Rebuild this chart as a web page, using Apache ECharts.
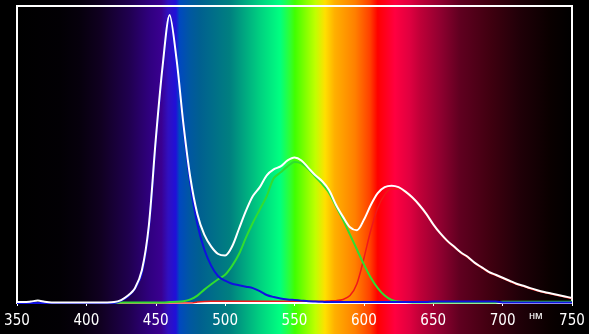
<!DOCTYPE html>
<html><head><meta charset="utf-8">
<script src="https://cdn.jsdelivr.net/npm/echarts@6/dist/echarts.min.js"></script>
<style>html,body{margin:0;padding:0;background:#000}#c{width:589px;height:334px}</style>
</head><body><div id="c"></div>
<script>
const wavelengths = [350,355,360,365,370,375,380,385,390,395,400,405,410,415,420,425,430,435,440,445,450,455,460,465,470,475,480,485,490,495,500,505,510,515,520,525,530,535,540,545,550,555,560,565,570,575,580,585,590,595,600,605,610,615,620,625,630,635,640,645,650,655,660,665,670,675,680,685,690,695,700,705,710,715,720,725,730,735,740,745,750];
const xTicks = [350,400,450,500,550,600,650,700,750];
const unitLabel = 'нм';

const whiteVals = [0.003,0.003,0.005,0.008,0.004,0.002,0.002,0.002,0.002,0.002,
  0.002,0.002,0.002,0.002,0.003,0.01,0.025,0.05,0.11,0.26,
  0.55,0.80,0.97,0.82,0.60,0.42,0.30,0.23,0.19,0.165,
  0.16,0.19,0.25,0.31,0.36,0.39,0.43,0.45,0.46,0.48,
  0.49,0.48,0.455,0.43,0.41,0.38,0.33,0.29,0.255,0.245,
  0.28,0.33,0.37,0.39,0.395,0.39,0.375,0.355,0.33,0.30,
  0.265,0.235,0.21,0.19,0.17,0.155,0.135,0.12,0.105,0.095,
  0.085,0.075,0.065,0.058,0.05,0.043,0.037,0.032,0.027,0.022,
  0.017];
const blueVals = [0,0,0,0,0,0,0,0,0,0,
  0,0,0,0,0,0.008,0.022,0.048,0.10,0.25,
  0.54,0.79,0.96,0.81,0.59,0.40,0.265,0.18,0.125,0.09,
  0.075,0.065,0.06,0.055,0.05,0.04,0.027,0.02,0.015,0.012,
  0.01,0.008,0.006,0.005,0.004,0.003,0.003,0.003,0.003,0.003,
  0.003,0.003,0.003,0.003,0.003,0.003,0.003,0.003,0.003,0.003,
  0.005,0.005,0.005,0.005,0.005,0.005,0.005,0.005,0.005,0.005,
  0.002,0.002,0.002,0.002,0.002,0.002,0.002,0.002,0.002,0.002,
  0.002];
const greenVals = [0,0,0,0,0,0,0,0,0,0,
  0,0,0,0,0,0.002,0.002,0.002,0.002,0.002,
  0.002,0.002,0.003,0.004,0.006,0.012,0.025,0.045,0.063,0.08,
  0.095,0.125,0.165,0.22,0.27,0.315,0.36,0.42,0.44,0.46,
  0.475,0.47,0.45,0.425,0.40,0.37,0.325,0.28,0.23,0.18,
  0.13,0.085,0.05,0.025,0.01,0.005,0.003,0.002,0.002,0.002,
  0.002,0.002,0.002,0.002,0.002,0.002,0.002,0.002,0.002,0.002,
  0.004,0.004,0.004,0.004,0.004,0.004,0.004,0.004,0.004,0.004,
  0.004];
const redVals = [0,0,0,0,0,0,0,0,0,0,
  0,0,0,0,0,0,0,0,0,0,
  0,0,0,0,0,0,0.003,0.005,0.006,0.006,
  0.006,0.006,0.006,0.006,0.006,0.006,0.006,0.006,0.006,0.006,
  0.006,0.006,0.006,0.006,0.006,0.007,0.008,0.012,0.025,0.065,
  0.15,0.245,0.32,0.365,0.385,0.385,0.372,0.352,0.328,0.298,
  0.263,0.233,0.208,0.188,0.168,0.153,0.133,0.118,0.103,0.093,
  0.083,0.073,0.063,0.056,0.048,0.041,0.035,0.030,0.025,0.020,
  0.015];

// spectrum background colour stops (wavelength -> colour)
const bgStops = [[350,'#000000'],[381,'#020004'],[395,'#06000c'],[410,'#100020'],[431,'#200050'],[446,'#300080'],[454,'#3a0090'],[459,'#3010c0'],[464.5,'#2010d8'],[467,'#0048c0'],[475,'#0058a0'],[482,'#006090'],[503.5,'#008080'],[525,'#00d080'],[539.5,'#00ff80'],[547,'#30ff30'],[550.3,'#40ff00'],[565,'#c0ff00'],[572,'#ffe000'],[579,'#ffb000'],[593.6,'#ff8000'],[604.4,'#ff4000'],[610,'#ff0000'],[622.4,'#ff0040'],[633,'#e00040'],[640.4,'#c00038'],[655,'#900030'],[669,'#600020'],[691,'#400010'],[712.5,'#200008'],[734,'#0a0000'],[750,'#000000']];

const pair = v => wavelengths.map((w,i)=>[w,v[i]]);
const chart = echarts.init(document.getElementById('c'));
const lineS = (data,color,w) => ({type:'line',data:pair(data),showSymbol:false,smooth:0.3,lineStyle:{color:color,width:w},animation:false});
const labelFont = "'Liberation Sans Narrow','DejaVu Sans Condensed','Liberation Sans',sans-serif";
chart.setOption({
  backgroundColor:'#000',
  animation:false,
  grid:{left:17,right:17,top:6,bottom:31,show:true,borderColor:'#fff',borderWidth:2,backgroundColor:'transparent'},
  xAxis:{type:'value',min:350,max:750,interval:50,
    axisLine:{show:true,lineStyle:{color:'#fff',width:2}},
    axisTick:{show:true,length:3,lineStyle:{color:'#fff',width:1}},
    axisLabel:{color:'#fff',fontSize:15,fontFamily:labelFont,margin:11,
      formatter:v=>xTicks.includes(v)?String(v):''},
    splitLine:{show:false}},
  yAxis:{type:'value',min:0,max:1,show:false,splitLine:{show:false}},
  series:[lineS(redVals,'#f01818',1.5),lineS(greenVals,'#30dd30',2),lineS(blueVals,'#1010e0',2),lineS(whiteVals,'#ffffff',2)]
});
const x0 = chart.convertToPixel({xAxisIndex:0},350);
const x1 = chart.convertToPixel({xAxisIndex:0},750);
const stops = bgStops.map(s=>({offset:(s[0]-350)/400,color:s[1]}));
chart.setOption({graphic:[
  {type:'rect',z:-100,silent:true,shape:{x:x0,y:0,width:x1-x0,height:334},
   style:{fill:new echarts.graphic.LinearGradient(0,0,1,0,stops)}},
  {type:'text',left:529,top:310,style:{text:unitLabel,fill:'#fff',fontSize:11,fontFamily:"'Liberation Sans',sans-serif"}}
]});
</script></body></html>
